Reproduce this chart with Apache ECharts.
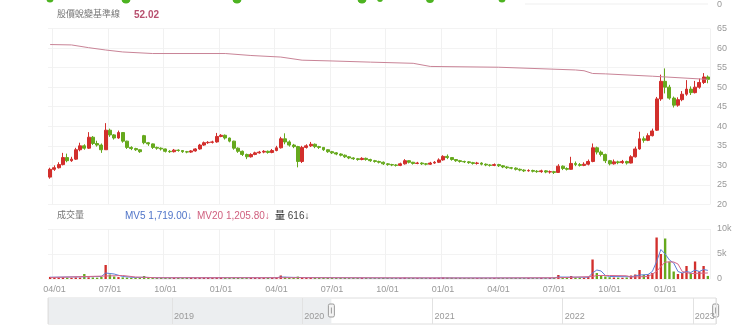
<!DOCTYPE html>
<html><head><meta charset="utf-8">
<script src="https://cdn.jsdelivr.net/npm/echarts@6/dist/echarts.min.js"></script>
<style>html,body{margin:0;padding:0;background:#fff}#c{width:740px;height:332px}</style>
</head><body><div id="c"></div>
<script>
// ---------- data ----------
const firstWeek = [2020, 2, 23]; // Monday of first weekly candle
const weekCount = 155;
const opens = [27.0,29.0,29.4,30.2,32.0,31.2,31.6,34.0,35.0,34.4,
37.2,35.6,35.2,34.0,39.0,37.8,37.0,38.4,36.2,34.6,
34.3,34.0,37.6,35.8,35.5,34.6,34.4,34.2,33.6,33.5,
33.9,33.8,33.5,33.4,33.7,34.2,35.2,35.8,35.9,36.0,
37.4,37.7,37.0,36.2,34.4,33.6,32.8,32.2,32.8,33.2,
33.4,33.6,33.3,33.8,34.5,36.8,36.0,35.2,34.8,31.0,
34.6,35.0,35.4,34.8,34.6,34.0,33.5,33.2,32.9,32.6,
32.2,31.9,31.7,31.5,31.8,31.5,31.2,31.0,30.8,30.4,
30.2,30.1,30.0,30.4,31.2,30.8,30.5,30.6,30.4,30.3,
30.6,30.8,31.4,32.3,32.0,31.5,31.2,31.0,30.9,30.7,
30.5,30.6,30.3,30.1,30.0,30.2,29.9,29.6,29.4,29.3,
29.0,28.8,28.6,28.7,28.5,28.4,28.6,28.3,28.4,28.2,
29.8,29.2,29.0,30.5,30.2,30.0,30.3,31.0,34.5,33.4,
32.8,31.2,30.4,30.9,30.7,31.0,30.6,32.2,34.2,36.8,
36.4,37.6,39.0,47.0,51.5,50.0,47.2,45.4,46.8,48.2,
49.5,48.6,50.0,51.2,52.6];
const closes = [29.0,29.4,30.2,32.0,31.2,31.6,34.0,35.0,34.4,37.2,
35.6,35.2,34.0,39.0,37.8,37.0,38.4,36.2,34.6,34.3,
34.0,33.5,35.8,35.5,34.6,34.4,34.2,33.6,33.5,33.9,
33.8,33.5,33.4,33.7,34.2,35.2,35.8,35.9,36.0,37.4,
37.7,37.0,36.2,34.4,33.6,32.8,32.2,32.8,33.2,33.4,
33.6,33.3,33.8,34.5,36.8,36.0,35.2,34.8,31.0,34.6,
35.0,35.4,34.8,34.6,34.0,33.5,33.2,32.9,32.6,32.2,
31.9,31.7,31.5,31.8,31.5,31.2,31.0,30.8,30.4,30.2,
30.1,30.0,30.4,31.2,30.8,30.5,30.6,30.4,30.3,30.6,
30.8,31.4,32.3,32.0,31.5,31.2,31.0,30.9,30.7,30.5,
30.6,30.3,30.1,30.0,30.2,29.9,29.6,29.4,29.3,29.0,
28.8,28.6,28.7,28.5,28.4,28.6,28.3,28.4,28.2,29.8,
29.2,29.0,30.5,30.2,30.0,30.3,31.0,34.5,33.4,32.8,
31.2,30.4,30.9,30.7,31.0,30.6,32.2,34.2,36.8,36.4,
37.6,38.8,47.0,51.5,50.0,47.2,45.4,46.8,48.2,49.5,
48.6,50.0,51.2,52.6,52.0];
const lows = [26.6,28.6,29.2,30.0,30.8,30.9,31.4,33.6,34.0,34.2,
35.2,34.8,33.2,34.0,37.3,36.6,36.8,35.8,34.2,33.9,
33.7,33.2,35.4,35.0,34.2,34.0,33.8,33.3,33.2,33.3,
33.5,33.2,33.1,33.2,33.5,34.0,35.0,35.5,35.6,35.8,
37.2,36.6,35.9,34.0,33.2,32.4,31.6,32.0,32.6,33.0,
33.1,33.0,33.1,33.6,34.3,35.4,34.8,34.4,29.5,30.6,
34.3,34.7,34.4,34.2,33.7,33.2,32.9,32.6,32.3,31.9,
31.6,31.4,31.2,31.3,31.2,30.9,30.7,30.5,30.1,29.9,
29.8,29.7,29.8,30.2,30.5,30.2,30.3,30.1,30.0,30.1,
30.4,30.6,31.2,31.6,31.2,30.9,30.7,30.6,30.4,30.2,
30.2,30.0,29.8,29.7,29.8,29.6,29.3,29.1,29.0,28.7,
28.5,28.3,28.4,28.2,28.1,28.1,28.0,27.9,27.8,28.1,
28.8,28.7,28.9,29.8,29.7,29.8,30.0,30.8,32.8,32.3,
30.6,30.0,30.2,30.3,30.4,30.2,30.5,32.0,34.0,35.8,
36.2,37.4,38.8,46.5,48.4,46.8,44.8,45.0,46.4,47.8,
48.0,48.4,49.6,50.8,51.0];
const highs = [29.4,30.0,30.8,33.2,33.0,32.2,34.5,35.8,35.4,38.5,
37.5,36.3,35.6,40.8,39.4,38.0,38.9,38.5,36.3,34.9,
34.5,34.1,37.8,36.0,35.6,34.8,34.6,34.3,33.9,34.2,
34.1,33.9,33.7,33.9,34.4,35.5,36.1,36.2,36.3,38.3,
38.0,37.9,37.1,36.3,34.6,33.8,33.0,33.1,33.5,33.7,
33.9,33.8,34.2,35.0,37.3,38.2,36.4,35.5,35.0,35.0,
35.4,36.0,35.6,35.0,34.7,34.1,33.7,33.4,33.1,32.8,
32.4,32.1,31.9,32.1,32.0,31.7,31.4,31.2,31.0,30.6,
30.4,30.3,30.7,31.6,31.3,30.9,30.9,30.8,30.6,30.9,
31.1,31.8,32.6,32.8,32.1,31.6,31.4,31.2,31.1,30.9,
30.9,30.8,30.5,30.3,30.5,30.4,30.1,29.8,29.6,29.5,
29.2,29.0,29.0,28.9,28.8,28.9,28.8,28.7,28.6,30.3,
30.0,29.5,32.2,31.0,30.6,30.8,31.5,35.6,34.8,33.8,
33.0,31.4,31.5,31.2,31.4,31.2,32.6,34.8,38.6,37.4,
38.2,39.4,47.5,53.2,54.8,50.6,47.6,47.4,49.0,51.8,
50.2,51.6,52.2,53.6,53.0];
const volumes = [420,380,300,350,260,240,310,280,1000,330,
300,260,420,2800,900,500,380,320,280,250,
230,220,600,300,260,240,220,210,230,220,
210,200,220,230,250,300,280,260,250,380,
300,260,240,280,260,240,300,250,230,220,
210,220,240,300,700,420,300,260,480,350,
300,280,260,240,230,220,210,200,210,200,
190,200,210,220,200,190,180,190,200,190,
180,190,200,260,220,200,190,200,190,200,
210,230,300,280,240,220,210,200,190,200,
190,200,190,180,190,200,190,180,190,200,
190,180,200,190,180,200,190,210,200,800,
350,300,600,320,280,260,400,3900,1200,600,
500,350,300,280,260,300,700,900,1800,800,
900,1200,8300,5000,8100,3500,1500,1000,1200,2600,
1200,3500,1500,2600,616];
// [week index, value]
const baseLine = [[0,60.9],[5,60.8],[9,60.1],[13,59.5],[17,59.0],[24,58.6],[41,58.6],[47,58.1],[54,57.7],
[59,56.9],[66,56.7],[75,56.4],[85,56.1],[89,55.3],[105,55.1],[123,54.4],[125,54.2],[127,53.5],[130,53.4],
[141,52.8],[153,52.05],[154,52.02]];
const mv5 = [[0,350],[8,450],[12,500],[13,1200],[15,1000],[17,500],[20,300],[22,350],[25,250],[53,260],[54,400],
[57,320],[60,280],[80,200],[118,210],[119,400],[121,380],[126,350],[127,1200],[128,1800],[129,1600],[130,700],
[131,500],[136,450],[138,800],[140,900],[141,1500],[142,3500],[143,5900],[144,5000],[145,3800],[146,3200],
[147,1500],[148,1200],[149,1500],[150,1300],[151,1800],[152,1500],[153,1900],[154,1719]];
const mv20 = [[0,300],[13,600],[17,700],[20,400],[25,250],[60,260],[100,200],[119,250],[127,500],[128,700],
[131,700],[135,650],[136,400],[140,500],[142,1500],[143,2500],[144,3400],[146,3400],[147,3000],[148,1500],
[150,1100],[152,1150],[154,1205.8]];
const priceTicks = {min:20, max:65, step:5};
const volTicks = {min:0, max:10000, step:5000};
const sliderRange = ['2018-01-18', '2023-03-07'];
const lastVolume = 616;

// ---------- helpers ----------
const UP = '#d22f2c', DOWN = '#66a91d';
const FONT = "'Liberation Sans','Noto Sans CJK TC',sans-serif";
const pad = n => (n < 10 ? '0' : '') + n;
const cats = [], qLabel = {};
for (let i = 0; i < weekCount; i++) {
  const d = new Date(firstWeek[0], firstWeek[1], firstWeek[2] + 7 * i);
  const key = d.getFullYear() + '-' + pad(d.getMonth() + 1) + '-' + pad(d.getDate());
  cats.push(key);
  for (let k = 0; k < 7; k++) {
    const e = new Date(firstWeek[0], firstWeek[1], firstWeek[2] + 7 * i + k);
    if (e.getDate() === 1 && e.getMonth() % 3 === 0) { qLabel[key] = pad(e.getMonth() + 1) + '/01'; }
  }
}
const isQ = (idx, val) => qLabel[cats[idx]] !== undefined;
const num = (v, d) => v.toFixed(d).replace(/\B(?=(\d{3})+(?!\d))/g, ',');
const candles = opens.map((o, i) => [o, closes[i], lows[i], highs[i]]);
const volData = volumes.map((v, i) => ({ value: v, itemStyle: { color: closes[i] >= opens[i] ? UP : DOWN } }));

const chart = echarts.init(document.getElementById('c'));
const axisLbl = { color: '#999', fontSize: 9, fontFamily: FONT };
chart.setOption({
  animation: false,
  backgroundColor: '#fff',
  grid: [
    { left: 48, right: 30, top: 28.5, height: 176 },
    { left: 48, right: 30, top: 229, height: 50 },
    { left: 48, right: 24, top: 298, height: 26, show: true, borderColor: '#dedede', borderWidth: 1, backgroundColor: '#fff' }
  ],
  xAxis: [
    { type: 'category', gridIndex: 0, data: cats, axisLine: { show: false }, axisTick: { show: false }, axisLabel: { show: false },
      splitLine: { show: true, interval: isQ, lineStyle: { color: '#f1f1f1' } } },
    { type: 'category', gridIndex: 1, data: cats, axisLine: { show: false }, axisTick: { show: false },
      axisLabel: Object.assign({ interval: isQ, margin: 6, formatter: v => qLabel[v] || '' }, axisLbl),
      splitLine: { show: true, interval: isQ, lineStyle: { color: '#f1f1f1' } } },
    { type: 'time', gridIndex: 2, z: 5, min: sliderRange[0], max: sliderRange[1], splitNumber: 5, minInterval: 360 * 864e5,
      axisLine: { show: false }, axisTick: { show: false },
      axisLabel: Object.assign({ inside: true, margin: 3, align: 'left', padding: [0, 0, 0, 2], showMinLabel: false, showMaxLabel: true,
        formatter: v => { const d = new Date(v); return (d.getMonth() === 0 && d.getDate() === 1) ? String(d.getFullYear()) : ''; } }, axisLbl),
      splitLine: { show: true, lineStyle: { color: '#e2e2e2' } } }
  ],
  yAxis: [
    { type: 'value', gridIndex: 0, position: 'right', min: priceTicks.min, max: priceTicks.max, interval: priceTicks.step,
      axisLine: { show: false }, axisTick: { show: false }, axisLabel: Object.assign({ margin: 7 }, axisLbl),
      splitLine: { lineStyle: { color: '#f3f3f3' } } },
    { type: 'value', gridIndex: 1, position: 'right', min: volTicks.min, max: volTicks.max, interval: volTicks.step,
      axisLine: { show: false }, axisTick: { show: false },
      axisLabel: Object.assign({ margin: 7, formatter: v => v >= 1000 ? (v / 1000) + 'k' : String(v) }, axisLbl),
      splitLine: { lineStyle: { color: '#f3f3f3' } } },
    { type: 'value', gridIndex: 2, min: 0, max: 1, show: false }
  ],
  series: [
    { type: 'candlestick', xAxisIndex: 0, yAxisIndex: 0, data: candles, barWidth: '80%',
      itemStyle: { color: UP, color0: DOWN, borderColor: UP, borderColor0: DOWN, borderWidth: 1 } },
    { type: 'line', xAxisIndex: 0, yAxisIndex: 0, data: baseLine, symbol: 'none', lineStyle: { color: '#c98497', width: 1 } },
    { type: 'bar', xAxisIndex: 1, yAxisIndex: 1, data: volData, barWidth: '55%' },
    { type: 'line', xAxisIndex: 1, yAxisIndex: 1, data: mv5, symbol: 'none', lineStyle: { color: '#5b7fd6', width: 1 } },
    { type: 'line', xAxisIndex: 1, yAxisIndex: 1, data: mv20, symbol: 'none', lineStyle: { color: '#d6678a', width: 1 } },
    { type: 'line', xAxisIndex: 2, yAxisIndex: 2, data: [[sliderRange[0], 0], [sliderRange[1], 0]], symbol: 'none',
      lineStyle: { opacity: 0 }, silent: true, z: 0, zlevel: 0,
      markArea: { silent: true, z: 0, itemStyle: { color: '#eceef0' }, data: [[{ xAxis: sliderRange[0] }, { xAxis: cats[0] }]] } }
  ]
});

// legend texts and slider handles
const t = (text, x, y, fill, size, weight) => ({ type: 'text', x: x, y: y, silent: true,
  style: { text: text, fill: fill, fontSize: size, fontFamily: FONT, fontWeight: weight || 'normal', verticalAlign: 'middle' } });
const hx0 = chart.convertToPixel({ xAxisIndex: 2 }, cats[0]);
const hx1 = chart.convertToPixel({ xAxisIndex: 2 }, cats[cats.length - 1]);
const handle = x => ({ type: 'group', x: x - 3, y: 304, children: [
  { type: 'rect', shape: { x: 0, y: 0, width: 6, height: 13, r: 1.5 }, style: { fill: '#f4f4f4', stroke: '#9a9a9a', lineWidth: 1 } },
  { type: 'line', shape: { x1: 3, y1: 3.5, x2: 3, y2: 9.5 }, style: { stroke: '#9a9a9a', lineWidth: 1 } }
] });
const blobs = [[50, 3.5], [126, 4.5], [237, 4.5], [362, 4.5], [380, 3], [430, 4], [502, 3.5]].map(b => ({
  type: 'circle', silent: true, shape: { cx: b[0], cy: -1, r: b[1] }, style: { fill: '#4db321' } }));
chart.setOption({ graphic: [].concat(blobs, [
  { type: 'line', silent: true, shape: { x1: 525, y1: 4, x2: 708, y2: 4 }, style: { stroke: '#efefef', lineWidth: 1 } },
  t('0', 717, 5, '#999', 9),
  t('股價蛻變基準線', 57, 15, '#777', 9),
  t(num(baseLine[baseLine.length - 1][1], 2), 134, 15, '#b8506f', 10, 'bold'),
  t('成交量', 57, 216, '#777', 9),
  t('MV5 ' + num(mv5[mv5.length - 1][1], 2) + '\u2193', 125, 216, '#4f74c8', 10, 500),
  t('MV20 ' + num(mv20[mv20.length - 1][1], 2) + '\u2193', 197, 216, '#d0607f', 10, 500),
  t('量 ' + lastVolume + '\u2193', 275, 216, '#444', 10, 500),
  handle(hx0), handle(hx1)
]) });
</script>
</body></html>
